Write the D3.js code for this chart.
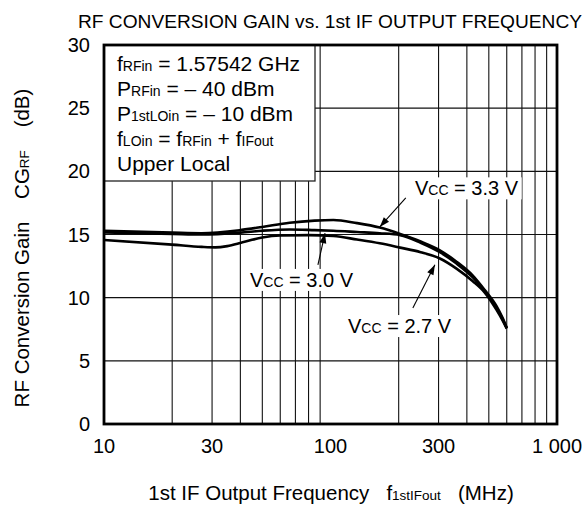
<!DOCTYPE html>
<html><head><meta charset="utf-8">
<script src="https://cdn.jsdelivr.net/npm/d3@7"></script>
<style>body{margin:0;background:#fff}svg{display:block;font-family:"Liberation Sans",Arial,sans-serif}</style>
</head><body><svg id="c" width="584" height="510"></svg>
<script>
const xTickValues = [10, 30, 100, 300, 1000];
const xTickLabels = ["10", "30", "100", "300", "1 000"];
const yTickValues = [0, 5, 10, 15, 20, 25, 30];
const freq33 = [10, 20, 27, 40, 50, 66, 85, 103, 131, 165, 203, 250, 304, 360, 425, 480, 540, 575, 600];
const gain33 = [15.3, 15.15, 15.1, 15.35, 15.6, 15.93, 16.1, 16.15, 15.9, 15.55, 15.05, 14.45, 13.75, 12.85, 11.75, 10.6, 9.35, 8.4, 7.6];
const freq30 = [10, 20, 27, 40, 50, 66, 85, 103, 131, 165, 203, 250, 304, 360, 425, 480, 540, 575, 600];
const gain30 = [15.17, 15.05, 15.0, 15.15, 15.3, 15.4, 15.35, 15.3, 15.2, 15.1, 14.95, 14.35, 13.6, 12.7, 11.6, 10.5, 9.2, 8.3, 7.6];
const freq27 = [10, 20, 27, 31, 35, 40, 45, 50, 60, 80, 103, 131, 165, 203, 250, 304, 360, 425, 480, 540, 575, 600];
const gain27 = [14.57, 14.2, 14.02, 13.98, 14.08, 14.33, 14.58, 14.76, 14.92, 14.95, 14.88, 14.6, 14.3, 13.96, 13.6, 13.1, 12.3, 11.3, 10.4, 9.05, 8.2, 7.55];
const seriesNames = ["3.3", "3.0", "2.7"];
// annotation anchors in data space: [labelF, labelG, arrowFromF, arrowFromG, arrowToF, arrowToG]
const annot = [[236, 18.1, 215, 17.9, 165, 15.6], [44.1, 10.85, 88, 12.6, 94.6, 15.1], [119.5, 7.2, 231, 9.18, 289, 12.6]];

const svg = d3.select("#c");
const L = 104, R = 557, T = 45, B = 424;
const x = d3.scaleLog().domain([10, 1000]).range([L, R]);
const y = d3.scaleLinear().domain([0, 30]).range([B, T]);

// grid
const gridX = [];
for (let d = 10; d < 1000; d *= 10) for (let k = 2; k <= 9; k++) gridX.push(k * d);
const g = svg.append("g");
g.selectAll("line.gx").data(gridX).join("line")
  .attr("x1", d => x(d)).attr("x2", d => x(d)).attr("y1", T).attr("y2", B)
  .attr("stroke", "#111").attr("stroke-width", 1.1);
g.selectAll("line.gy").data([5, 10, 15, 20, 25]).join("line")
  .attr("x1", L).attr("x2", R).attr("y1", d => y(d)).attr("y2", d => y(d))
  .attr("stroke", "#111").attr("stroke-width", 1.1);

// legend box
svg.append("rect").attr("x", L).attr("y", T).attr("width", 211).attr("height", 136)
  .attr("fill", "#fff").attr("stroke", "#222").attr("stroke-width", 1.3);

// frame
svg.append("rect").attr("x", L).attr("y", T).attr("width", R - L).attr("height", B - T)
  .attr("fill", "none").attr("stroke", "#000").attr("stroke-width", 2.8);

// curves
const line = d3.line().x(d => x(d[0])).y(d => y(d[1])).curve(d3.curveMonotoneX);
const allSeries = [d3.zip(freq33, gain33), d3.zip(freq30, gain30), d3.zip(freq27, gain27)];
svg.selectAll("path.s").data(allSeries).join("path")
  .attr("d", line).attr("fill", "none").attr("stroke", "#000").attr("stroke-width", 2.6);

// axis tick labels
const fs = 20;
svg.selectAll("text.yt").data(yTickValues).join("text")
  .attr("x", 90).attr("y", d => y(d) + 7).attr("text-anchor", "end")
  .attr("font-size", fs).text(d => d);
svg.selectAll("text.xt").data(xTickValues).join("text")
  .attr("x", d => x(d)).attr("y", 453).attr("text-anchor", "middle")
  .attr("font-size", fs).text((d, i) => xTickLabels[i]);

// title
svg.append("text").attr("x", 582).attr("y", 28).attr("text-anchor", "end")
  .attr("font-size", 19).attr("textLength", 504).attr("lengthAdjust", "spacingAndGlyphs")
  .text("RF CONVERSION GAIN vs. 1st IF OUTPUT FREQUENCY");

function rich(sel, parts, size, sub) {
  parts.forEach(p => {
    sel.append("tspan").attr("font-size", p[1] ? sub : size).text(p[0]);
  });
  return sel;
}

// x axis title
rich(svg.append("text").attr("x", 331).attr("y", 500).attr("text-anchor", "middle").attr("xml:space", "preserve"),
  [["1st IF Output Frequency   ", 0], ["f", 0], ["1stIFout", 1], ["   (MHz)", 0]], 20.5, 13.5);

// y axis title
rich(svg.append("text").attr("transform", "translate(29,248) rotate(-90)").attr("text-anchor", "middle")
  .attr("xml:space", "preserve"),
  [["RF Conversion Gain    CG", 0], ["RF", 1], ["    (dB)", 0]], 20.5, 13.5);

// legend text
const legLines = [
  [["f", 0], ["RFin", 1], [" = 1.57542 GHz", 0]],
  [["P", 0], ["RFin", 1], [" = \u2013 40 dBm", 0]],
  [["P", 0], ["1stLOin", 1], [" = \u2013 10 dBm", 0]],
  [["f", 0], ["LOin", 1], [" = f", 0], ["RFin", 1], [" + f", 0], ["IFout", 1]],
  [["Upper Local", 0]]
];
legLines.forEach((ln, i) => {
  rich(svg.append("text").attr("x", 117).attr("y", 71 + i * 25).attr("xml:space", "preserve"), ln, 21, 14);
});

// annotations
annot.forEach((a, i) => {
  const t = svg.append("text").attr("x", x(a[0])).attr("y", y(a[1])).attr("xml:space", "preserve");
  rich(t, [["V", 0], ["CC", 1], [" = " + seriesNames[i] + " V", 0]], 20, 14);
  const bb = t.node().getBBox();
  svg.insert("rect", "text").attr("x", bb.x - 3).attr("y", bb.y).attr("width", bb.width + 6).attr("height", bb.height)
    .attr("fill", "#fff");
  const x1 = x(a[2]), y1 = y(a[3]), x2 = x(a[4]), y2 = y(a[5]);
  svg.append("line").attr("x1", x1).attr("y1", y1).attr("x2", x2).attr("y2", y2)
    .attr("stroke", "#000").attr("stroke-width", 1.1);
  const ang = Math.atan2(y2 - y1, x2 - x1), len = 10, w = 3.5;
  const bx = x2 - len * Math.cos(ang), by = y2 - len * Math.sin(ang);
  svg.append("path").attr("d", `M${x2},${y2}L${bx - w * Math.sin(ang)},${by + w * Math.cos(ang)}L${bx + w * Math.sin(ang)},${by - w * Math.cos(ang)}Z`)
    .attr("fill", "#000");
});
svg.selectAll("path").raise();
svg.selectAll("text").raise();
</script></body></html>
